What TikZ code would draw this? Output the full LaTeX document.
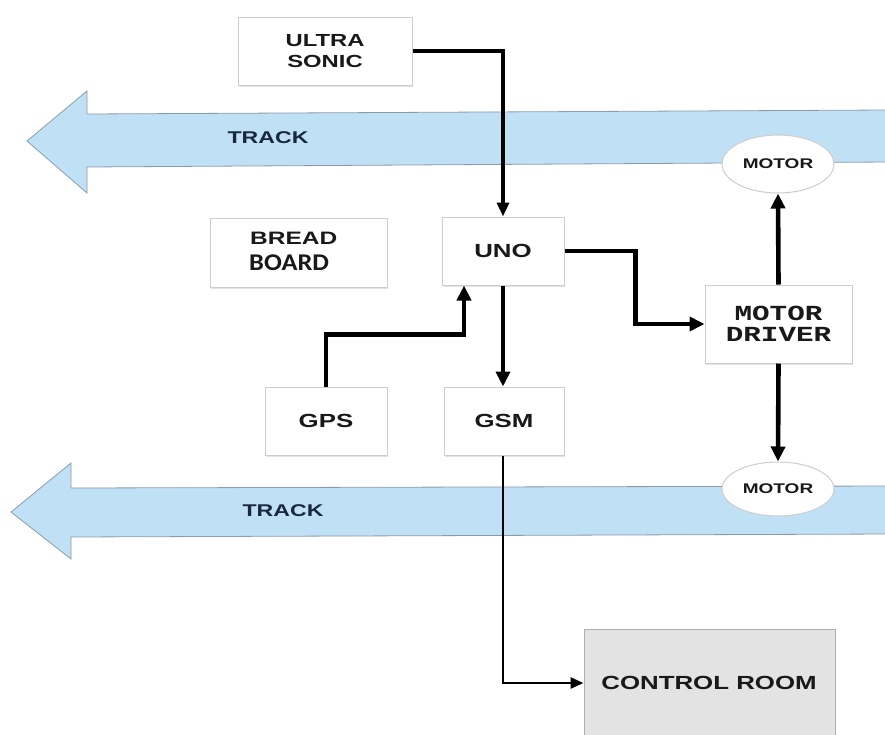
\documentclass[tikz,border=0pt]{standalone}
\usepackage{fontspec}
\setmainfont{Liberation Sans}[FakeStretch=1.36]
\newfontfamily\mdfont{Liberation Mono}[FakeStretch=1.36]
\newfontfamily\boardfont{Carlito}[FakeStretch=1.1]
\usetikzlibrary{arrows.meta,shapes.geometric,shadows,calc}
\definecolor{trackblue}{RGB}{192,225,245}
\definecolor{trackline}{RGB}{140,155,170}
\definecolor{boxline}{RGB}{205,205,205}
\definecolor{crfill}{RGB}{227,227,227}
\definecolor{crline}{RGB}{175,175,175}
\definecolor{txt}{RGB}{25,25,25}
\definecolor{tracktxt}{RGB}{25,40,60}
\begin{document}
\begin{tikzpicture}[x=1pt,y=-1pt,
  box/.style={draw=boxline, line width=1pt, fill=white, inner sep=0pt,
    drop shadow={shadow xshift=1.2pt, shadow yshift=-1.5pt, opacity=0.22},
    text=txt, font=\bfseries\fontsize{19}{22}\selectfont, align=center},
  motor/.style={ellipse, draw=boxline, line width=1pt, fill=white, inner sep=0pt,
    minimum width=112pt, text=txt, font=\bfseries\fontsize{14}{16}\selectfont},
  track/.style={draw=trackline, line width=0.8pt, fill=trackblue},
  tracklabel/.style={text=tracktxt, font=\bfseries\fontsize{17}{20}\selectfont},
  plain/.style={inner sep=0pt, text=txt},
  conn/.style={line width=4.6pt, -{Triangle[length=15pt,width=14pt]}},
  connmid/.style={line width=3.4pt, -{Triangle[length=14pt,width=12pt]}},
  connthin/.style={line width=2.8pt, -{Triangle[length=13pt,width=11pt]}}
]
\clip (0,0) rectangle (885,734);
\fill[white] (0,0) rectangle (885,734);

% tracks
\draw[track] (888,110) -- (87,114) -- (87,91) -- (27,141) -- (87,193) -- (87,167) -- (888,162);
\draw[track] (888,486) -- (71,488) -- (71,463) -- (11,512) -- (71,559) -- (71,537) -- (888,534);
\node[tracklabel] (t1) at (268,138) {TRACK};
\node[tracklabel] (t2) at (283,511) {TRACK};

% boxes
\node[box, minimum width=174pt, minimum height=68pt, font=\bfseries\fontsize{17.5}{20.7}\selectfont] (us) at (325,51) {ULTRA\\SONIC};
\node[box, minimum width=177pt, minimum height=69pt] (bb) at (298.5,252.5) {};
\node[plain, anchor=west, font=\bfseries\fontsize{18}{20}\selectfont] (bbt1) at (250,238) {BREAD};
\node[plain, anchor=west, font=\boardfont\bfseries\fontsize{24}{26}\selectfont] (bbt2) at (249,263) {BOARD};
\node[box, minimum width=122pt, minimum height=68pt] (uno) at (503,251) {UNO};
\node[box, minimum width=147pt, minimum height=78pt, font=\mdfont\bfseries\fontsize{21.5}{21}\selectfont] (md) at (778.5,324) {MOTOR\\DRIVER};
\node[box, minimum width=122pt, minimum height=68pt] (gps) at (326,421) {GPS};
\node[box, minimum width=120pt, minimum height=68pt] (gsm) at (504,421) {GSM};
\node[box, draw=crline, fill=crfill, minimum width=251pt, minimum height=108pt] (cr) at (709.5,683) {};
\node[plain, font=\bfseries\fontsize{19}{22}\selectfont] (crt) at (709,683) {CONTROL ROOM};

% motors
\node[motor, minimum height=58pt] (m1) at (778,164) {MOTOR};
\node[motor, minimum height=54pt] (m2) at (778,489) {MOTOR};

% connectors
\draw[connmid] (us.east) -| (uno.north);
\draw[conn] (uno.east) -- ++(71,0) |- (md.west);
\draw[conn] (md.north) -- (m1.south);
\draw[conn] (md.south) -- (m2.north);
\draw[conn] (gps.north) -- ++(0,-52) -| ([xshift=-39pt]uno.south);
\draw[conn] (uno.south) -- (uno.south |- gsm.north);
\draw[connthin] ([xshift=-1pt]gsm.south) |- (cr.west);
\end{tikzpicture}
\end{document}
